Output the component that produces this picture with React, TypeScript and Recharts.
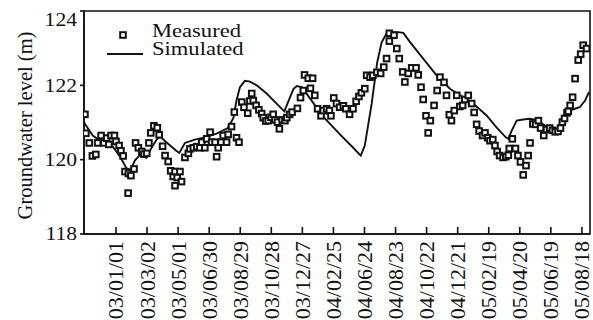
import React from 'react';
import { ComposedChart, Line, Scatter, XAxis, YAxis, ReferenceArea, Legend } from 'recharts';

// Observation dates shown along the time axis (one tick per sampling period)
const tickLabels = [
  '03/01/01', '03/03/02', '03/05/01', '03/06/30', '03/08/29', '03/10/28', '03/12/27', '04/02/25',
  '04/06/24', '04/08/23', '04/10/22', '04/12/21', '05/02/19', '05/04/20', '05/06/19', '05/08/18',
];
const tickPositions = tickLabels.map((_, i) => i);
const levelTicks = [118, 120, 122, 124];
const levelDomain: [number, number] = [118, 124];
const periodDomain: [number, number] = [-1.03, 15.26];

const MEASURED_NAME = 'Measured';
const SIMULATED_NAME = 'Simulated';

// Measured groundwater level: [period, level (m)]
const measured: [number, number][] = [
  [-1.0, 121.22], [-0.97, 120.71], [-0.86, 120.45], [-0.76, 120.1], [-0.65, 120.14], [-0.59, 120.45],
  [-0.48, 120.65], [-0.39, 120.45], [-0.3, 120.58], [-0.23, 120.41], [-0.16, 120.65], [-0.05, 120.65],
  [0.0, 120.49], [0.1, 120.38], [0.16, 120.24], [0.23, 120.1], [0.29, 119.68], [0.39, 119.1],
  [0.4, 119.63], [0.48, 119.57], [0.58, 119.75], [0.63, 120.45], [0.72, 120.32], [0.83, 120.22],
  [0.9, 120.15], [0.99, 120.17], [1.06, 120.45], [1.12, 120.72], [1.22, 120.91], [1.33, 120.86],
  [1.39, 120.67], [1.5, 120.36], [1.58, 120.11], [1.68, 119.95], [1.76, 119.7], [1.84, 119.55],
  [1.9, 119.68], [1.9, 119.3], [1.97, 119.52], [2.06, 119.68], [2.11, 119.41], [2.22, 120.06],
  [2.33, 120.17], [2.38, 120.29], [2.49, 120.32], [2.6, 120.35], [2.7, 120.32], [2.76, 120.47],
  [2.86, 120.32], [2.92, 120.56], [3.03, 120.74], [3.08, 120.47], [3.19, 120.47], [3.24, 120.08],
  [3.29, 120.32], [3.38, 120.47], [3.45, 120.65], [3.56, 120.47], [3.61, 120.68], [3.72, 120.89],
  [3.81, 121.28], [3.88, 120.59], [3.96, 120.47], [4.05, 121.55], [4.12, 121.41], [4.24, 121.25],
  [4.31, 121.58], [4.37, 121.78], [4.42, 121.59], [4.51, 121.46], [4.6, 121.34], [4.69, 121.24],
  [4.74, 121.13], [4.82, 121.04], [4.9, 121.05], [4.99, 121.14], [5.06, 121.22], [5.12, 121.07],
  [5.2, 121.01], [5.26, 120.83], [5.35, 121.07], [5.44, 121.05], [5.5, 121.13], [5.59, 121.22],
  [5.67, 121.28], [5.84, 121.38], [5.94, 121.67], [6.03, 121.86], [6.07, 122.28], [6.19, 122.19],
  [6.26, 121.92], [6.33, 122.19], [6.4, 121.73], [6.49, 121.37], [6.6, 121.18], [6.67, 121.32],
  [6.78, 121.37], [6.87, 121.32], [6.92, 121.18], [7.01, 121.66], [7.1, 121.51], [7.2, 121.41],
  [7.32, 121.45], [7.4, 121.37], [7.52, 121.22], [7.63, 121.37], [7.73, 121.57], [7.82, 121.7],
  [7.9, 121.8], [8.01, 121.91], [8.07, 122.27], [8.18, 122.22], [8.27, 122.27], [8.4, 122.35],
  [8.52, 122.32], [8.62, 122.49], [8.71, 122.72], [8.8, 123.4], [8.8, 123.19], [8.95, 123.35],
  [9.04, 122.99], [9.12, 122.72], [9.23, 122.36], [9.3, 122.09], [9.41, 122.32], [9.52, 122.47],
  [9.66, 122.47], [9.73, 122.28], [9.82, 121.95], [9.89, 121.62], [9.98, 121.18], [10.05, 120.72],
  [10.12, 121.05], [10.24, 121.46], [10.34, 121.86], [10.43, 122.22], [10.56, 122.08], [10.64, 121.73],
  [10.73, 121.21], [10.8, 121.05], [10.89, 121.32], [10.97, 121.73], [11.07, 121.43], [11.16, 121.46],
  [11.23, 121.62], [11.34, 121.73], [11.45, 121.51], [11.53, 121.27], [11.61, 120.95], [11.69, 120.77],
  [11.8, 120.65], [11.88, 120.72], [11.97, 120.59], [12.04, 120.51], [12.13, 120.54], [12.2, 120.38],
  [12.27, 120.22], [12.35, 120.11], [12.46, 120.06], [12.55, 120.08], [12.63, 120.12], [12.66, 120.3],
  [12.76, 120.56], [12.86, 120.3], [12.94, 120.11], [13.02, 119.94], [13.11, 119.59], [13.2, 119.84],
  [13.27, 120.11], [13.33, 120.45], [13.42, 120.96], [13.51, 120.95], [13.6, 121.05], [13.67, 120.85],
  [13.77, 120.65], [13.86, 120.81], [13.96, 120.85], [14.05, 120.79], [14.14, 120.75], [14.23, 120.76],
  [14.31, 120.85], [14.37, 121.01], [14.44, 121.11], [14.52, 121.26], [14.56, 121.3], [14.62, 121.46],
  [14.7, 121.68], [14.78, 122.18], [14.88, 122.68], [14.96, 122.84], [15.04, 123.08], [15.15, 122.99],
];

// Simulated groundwater level: [period, level (m)]
const simulated: [number, number][] = [
  [-1.03, 121.0], [-0.75, 120.65], [-0.45, 120.48], [-0.1, 120.35], [0.13, 120.08], [0.35, 119.75],
  [0.48, 119.74], [0.61, 119.98], [0.77, 120.12], [0.98, 120.05], [1.15, 120.33], [1.31, 120.54],
  [1.42, 120.62], [1.62, 120.47], [1.94, 120.24], [2.04, 120.18], [2.22, 120.45], [2.54, 120.54],
  [2.86, 120.6], [3.24, 120.7], [3.6, 120.85], [3.78, 121.12], [3.88, 121.59], [3.99, 121.95],
  [4.15, 122.12], [4.31, 122.1], [4.53, 122.0], [4.85, 121.78], [5.17, 121.51], [5.42, 121.3],
  [5.55, 121.57], [5.71, 121.9], [5.82, 121.98], [5.98, 121.95], [6.14, 121.77], [6.67, 121.16],
  [7.21, 120.68], [7.59, 120.36], [7.88, 120.11], [8.01, 120.38], [8.23, 121.5], [8.41, 122.62],
  [8.55, 123.15], [8.71, 123.4], [8.85, 123.42], [9.09, 123.43], [9.25, 123.41], [9.46, 123.17],
  [9.89, 122.72], [10.32, 122.27], [10.75, 121.91], [11.18, 121.68], [11.5, 121.51], [11.93, 121.19],
  [12.25, 120.87], [12.55, 120.6], [12.63, 120.56], [12.74, 120.78], [12.9, 121.05], [13.11, 121.08],
  [13.32, 121.1], [13.54, 121.07], [13.86, 120.89], [14.18, 120.78], [14.4, 121.14], [14.61, 121.32],
  [14.77, 121.37], [14.93, 121.41], [15.1, 121.59], [15.23, 121.82],
];

const measuredData = measured.map(([t, level]) => ({ t, level }));
const simulatedData = simulated.map(([t, level]) => ({ t, level }));

const FONT = '"Liberation Serif", "Times New Roman", Times, serif';
const INK = '#111';

const YTick = ({ x, y, payload }: any) => {
  // keep the topmost label inside the drawing area
  const cy = Math.max(y, 20);
  return (
    <text
      transform={`translate(${x},${cy}) scale(1.2,1)`}
      textAnchor="end"
      dominantBaseline="central"
      fontFamily={FONT}
      fontSize={18}
      fill={INK}
    >
      {payload.value}
    </text>
  );
};

const XTick = ({ x, y, payload }: any) => (
  <g>
    <line x1={x} y1={y} x2={x} y2={y - 7} stroke={INK} strokeWidth={1.6} />
    <text
      transform={`translate(${x},${y + 7}) rotate(-90)`}
      textAnchor="end"
      dominantBaseline="central"
      fontFamily={FONT}
      fontSize={22}
      fill={INK}
    >
      {tickLabels[payload.value]}
    </text>
  </g>
);

const YTitle = ({ viewBox }: any) => {
  const cx = viewBox.x + 25;
  const cy = viewBox.y + viewBox.height / 2 + 3;
  return (
    <text
      transform={`translate(${cx},${cy}) rotate(-90)`}
      textAnchor="middle"
      dominantBaseline="central"
      fontFamily={FONT}
      fontSize={20.5}
      fill={INK}
    >
      Groundwater level (m)
    </text>
  );
};

const Square = ({ cx, cy }: any) => (
  <rect x={cx - 2.8} y={cy - 2.8} width={5.6} height={5.6} fill="#fff" stroke={INK} strokeWidth={2} />
);

const LegendBox = () => (
  <svg width={170} height={46} style={{ display: 'block' }}>
    <rect x={20.2} y={12.2} width={5.6} height={5.6} fill="#fff" stroke={INK} strokeWidth={2} />
    <text transform="translate(52,17) scale(1.22,1)" fontFamily={FONT} fontSize={18.5} fill={INK}>
      {MEASURED_NAME}
    </text>
    <line x1={7} y1={34} x2={43} y2={34} stroke={INK} strokeWidth={1.9} />
    <text transform="translate(52,35) scale(1.22,1)" fontFamily={FONT} fontSize={18.5} fill={INK}>
      {SIMULATED_NAME}
    </text>
  </svg>
);

export default function App() {
  return (
    <div style={{ position: 'absolute', left: 0, top: 0, background: '#fff' }}>
      <ComposedChart width={593} height={320} margin={{ top: 11, right: 3, bottom: 0, left: 0 }}>
        <XAxis
          dataKey="t"
          type="number"
          domain={periodDomain}
          ticks={tickPositions}
          allowDataOverflow
          interval={0}
          height={86}
          tickLine={false}
          tickSize={0}
          tickMargin={0}
          tick={<XTick />}
          axisLine={{ stroke: INK, strokeWidth: 1.6 }}
        />
        <YAxis
          type="number"
          domain={levelDomain}
          ticks={levelTicks}
          allowDataOverflow
          width={84}
          tickSize={4}
          tickMargin={3}
          tickLine={{ stroke: INK, strokeWidth: 1.6 }}
          axisLine={{ stroke: INK, strokeWidth: 1.6 }}
          tick={<YTick />}
          label={{ content: <YTitle /> }}
        />
        <ReferenceArea
          x1={periodDomain[0]}
          x2={periodDomain[1]}
          y1={levelDomain[0]}
          y2={levelDomain[1]}
          fill="none"
          stroke={INK}
          strokeWidth={1.6}
        />
        <Line
          data={simulatedData}
          dataKey="level"
          name={SIMULATED_NAME}
          type="linear"
          stroke={INK}
          strokeWidth={1.9}
          dot={false}
          activeDot={false}
          legendType="line"
          isAnimationActive={false}
        />
        <Scatter
          data={measuredData}
          dataKey="level"
          name={MEASURED_NAME}
          shape={<Square />}
          legendType="square"
          isAnimationActive={false}
        />
        <Legend
          layout="vertical"
          align="center"
          verticalAlign="middle"
          content={<LegendBox />}
          wrapperStyle={{ left: 100, top: 20, width: 170, height: 46 }}
        />
      </ComposedChart>
    </div>
  );
}
